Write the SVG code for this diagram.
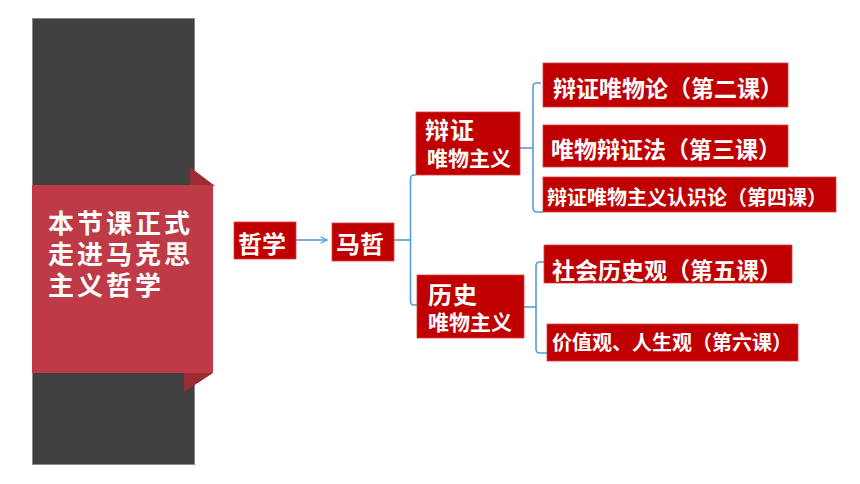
<svg xmlns="http://www.w3.org/2000/svg" width="860" height="484" viewBox="0 0 860 484">
<defs>
<style>
.box{fill:#C00000;stroke:#D24040;stroke-width:0.8}
.t{fill:#fff;font-family:"Noto Sans CJK SC","Noto Sans",sans-serif;font-weight:bold}
.ln{fill:none;stroke:#5B9BD5;stroke-width:1.6}
</style>
<marker id="ah" viewBox="0 0 10 10" refX="9" refY="5" markerWidth="8" markerHeight="8" orient="auto" markerUnits="userSpaceOnUse">
<path d="M1,1 L9,5 L1,9" fill="none" stroke="#5B9BD5" stroke-width="1.4"/>
</marker>
</defs>
<rect width="860" height="484" fill="#fff"/>
<g id="banner">
<rect x="32.5" y="18.5" width="162" height="446" fill="#404040" stroke="#8a8a8a" stroke-width="1"/>
<polygon points="190,167 215,186 190,186" fill="#9B2C33"/>
<polygon points="184,373 213,373 184,392" fill="#9B2C33"/>
<rect x="32" y="185" width="181" height="188" fill="#BE3A46"/>
<text class="t" font-size="26" letter-spacing="3" x="48" y="233">本节课正式</text>
<text class="t" font-size="26" letter-spacing="3" x="48" y="264">走进马克思</text>
<text class="t" font-size="26" letter-spacing="3" x="48" y="295">主义哲学</text>
</g>
<g id="connectors">
<line class="ln" x1="296" y1="240" x2="327" y2="240" marker-end="url(#ah)"/>
<line class="ln" x1="394" y1="240" x2="410.5" y2="240"/>
<path class="ln" d="M416,175 H414 Q410.5,175 410.5,179 V301 Q410.5,305 414,305 H417"/>
<path class="ln" d="M541,83 H537 Q533,83 533,87 V208 Q533,212 537,212 H543"/>
<line class="ln" x1="520" y1="148" x2="533" y2="148"/>
<path class="ln" d="M544,262 H540 Q536,262 536,266 V349 Q536,353 540,353 H547"/>
<line class="ln" x1="524" y1="307" x2="536" y2="307"/>
</g>
<g id="n-zhexue">
<rect class="box" x="234" y="222" width="62" height="37"/>
<text class="t" font-size="24" x="238" y="253">哲学</text>
</g>
<g id="n-mazhe">
<rect class="box" x="332" y="223" width="62" height="38"/>
<text class="t" font-size="24" x="336" y="253">马哲</text>
</g>
<g id="n-bianzheng">
<rect class="box" x="416" y="112" width="104" height="63"/>
<text class="t" font-size="24" letter-spacing="1" x="425" y="139">辩证</text>
<text class="t" font-size="21" x="427" y="166">唯物主义</text>
</g>
<g id="n-lishi">
<rect class="box" x="417" y="275" width="107" height="63"/>
<text class="t" font-size="24" letter-spacing="1" x="428" y="304">历史</text>
<text class="t" font-size="21" x="428" y="330">唯物主义</text>
</g>
<g id="n-l2">
<rect class="box" x="543" y="63" width="245" height="44"/>
<text class="t" font-size="23" x="553" y="97">辩证唯物论（第二课）</text>
</g>
<g id="n-l3">
<rect class="box" x="543" y="125" width="245" height="42"/>
<text class="t" font-size="23" x="551" y="158">唯物辩证法（第三课）</text>
</g>
<g id="n-l4">
<rect class="box" x="543" y="177" width="293" height="35"/>
<text class="t" font-size="20" x="547" y="205">辩证唯物主义认识论（第四课）</text>
</g>
<g id="n-l5">
<rect class="box" x="544" y="245" width="248" height="38"/>
<text class="t" font-size="23" x="552" y="279">社会历史观（第五课）</text>
</g>
<g id="n-l6">
<rect class="box" x="547" y="324" width="251" height="37"/>
<text class="t" font-size="20" x="552" y="350">价值观、人生观（第六课）</text>
</g>
</svg>
